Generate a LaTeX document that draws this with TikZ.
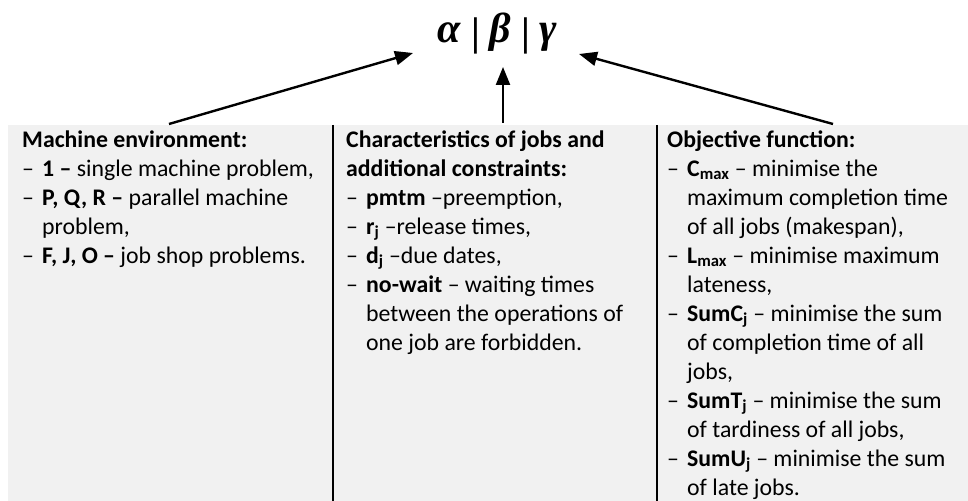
\documentclass[tikz,border=0pt]{standalone}
\usepackage{fontspec}
\setmainfont{Carlito}
\newfontface\greekface{Liberation Serif Bold Italic}
\newfontface\barface{Liberation Serif Bold}
\usetikzlibrary{arrows.meta}
\definecolor{panelgray}{HTML}{F1F1F1}
\newcommand\itemdash{\makebox[20bp][l]{–}}
\newcommand\colind{\hspace*{20bp}}
\newcommand\titlebar{{\barface\fontsize{40bp}{44bp}\selectfont\hspace{11bp}\raisebox{-3bp}{|}\hspace{9bp}}}
\begin{document}
\begin{tikzpicture}[x=1bp,y=-1bp,
  col/.style={anchor=north west, inner sep=0pt, align=left, font=\fontsize{23.8bp}{29bp}\selectfont},
  arr/.style={-{Triangle[length=18bp,width=14bp]}, line width=2.4bp},
  sepline/.style={line width=2.2bp}]
\useasboundingbox (0,0) rectangle (968,501);
\node[fill=panelgray, inner sep=0pt, minimum width=960bp, minimum height=376bp, anchor=north west] (panel) at (8,125) {};
\draw[sepline] (333,125) -- (333,501);
\draw[sepline] (657,125) -- (657,501);
\node[anchor=base, inner sep=0pt] (title) at (497,43) {\greekface\fontsize{42bp}{46bp}\selectfont α\titlebar β\titlebar γ};
\coordinate (tl) at (169,124); \coordinate (hl) at (413,53);
\coordinate (tm) at (503,123); \coordinate (hm) at (503,67);
\coordinate (tr) at (833,124); \coordinate (hr) at (579,54);
\draw[arr] (tl) -- (hl);
\draw[arr] (tm) -- (hm);
\draw[arr] (tr) -- (hr);
\node[col] (machine) at (22,127) {\rule{0pt}{20bp}\textbf{Machine environment:}\\
\itemdash\textbf{1 –} single machine problem,\\
\itemdash\textbf{P, Q, R –} parallel machine\\
\colind problem,\\
\itemdash\textbf{F, J, O –} job shop problems.};
\node[col] (jobs) at (346,127) {\rule{0pt}{20bp}\textbf{Characteristics of jobs and}\\
\textbf{additional constraints:}\\
\itemdash\textbf{pmtm} –preemption,\\
\itemdash\textbf{r\textsubscript{j}} –release times,\\
\itemdash\textbf{d\textsubscript{j}} –due dates,\\
\itemdash\textbf{no-wait} – waiting times\\
\colind between the operations of\\
\colind one job are forbidden.};
\node[col] (objective) at (667,127) {\rule{0pt}{20bp}\textbf{Objective function:}\\
\itemdash\textbf{C\textsubscript{max}} – minimise the\\
\colind maximum completion time\\
\colind of all jobs (makespan),\\
\itemdash\textbf{L\textsubscript{max}} – minimise maximum\\
\colind lateness,\\
\itemdash\textbf{SumC\textsubscript{j}} – minimise the sum\\
\colind of completion time of all\\
\colind jobs,\\
\itemdash\textbf{SumT\textsubscript{j}} – minimise the sum\\
\colind of tardiness of all jobs,\\
\itemdash\textbf{SumU\textsubscript{j}} – minimise the sum\\
\colind of late jobs.};
\end{tikzpicture}
\end{document}
